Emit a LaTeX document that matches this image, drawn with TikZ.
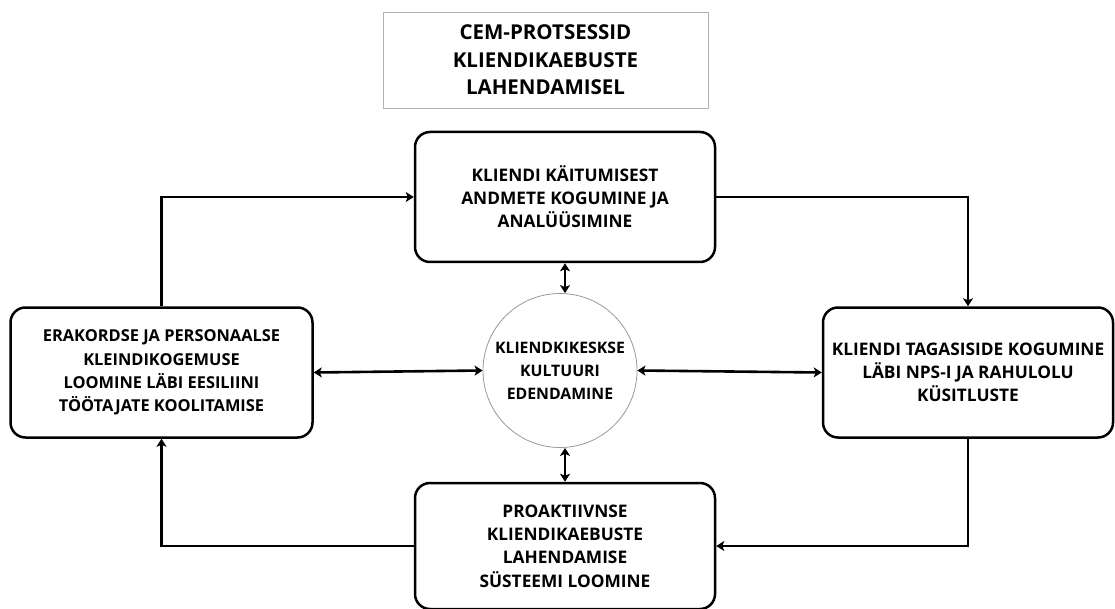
\documentclass[tikz,border=0pt]{standalone}
\usepackage{fontspec}
\setmainfont{Open Sans}
\usetikzlibrary{arrows.meta}
\begin{document}
\begin{tikzpicture}[x=1pt,y=-1pt,
  proc/.style={draw=black, line width=2.5pt, rounded corners=15pt, fill=white,
    align=center, inner sep=0pt},
  conn/.style={line width=2.6pt, -{Stealth[length=8pt,width=10pt,inset=2pt]}},
  dconn/.style={line width=2.6pt, {Stealth[length=8pt,width=10pt,inset=2pt]}-{Stealth[length=8pt,width=10pt,inset=2pt]}}
]
\useasboundingbox (0,0) rectangle (1115,609);
\fill[white] (0,0) rectangle (1115,609);

\node[draw=black!30, line width=0.8pt, minimum width=325pt, minimum height=96pt, align=center,
  font=\fontsize{20.5}{27.5}\selectfont\bfseries, inner sep=0pt] (title) at (545.5,60)
  {CEM-PROTSESSID\\KLIENDIKAEBUSTE\\LAHENDAMISEL};

\node[proc, minimum width=300pt, minimum height=130pt, font=\fontsize{17.3}{23}\selectfont\bfseries] (T) at (565,197)
  {KLIENDI KÄITUMISEST\\ANDMETE KOGUMINE JA\\ANALÜÜSIMINE};
\node[proc, minimum width=302pt, minimum height=130pt, font=\fontsize{16.4}{23.3}\selectfont\bfseries] (L) at (161.5,372.5)
  {ERAKORDSE JA PERSONAALSE\\KLEINDIKOGEMUSE\\LOOMINE LÄBI EESILIINI\\TÖÖTAJATE KOOLITAMISE};
\node[proc, minimum width=290pt, minimum height=130pt, font=\fontsize{17.3}{23}\selectfont\bfseries] (R) at (968,372.5)
  {KLIENDI TAGASISIDE KOGUMINE\\LÄBI NPS-I JA RAHULOLU\\KÜSITLUSTE};
\node[proc, minimum width=300pt, minimum height=126pt, font=\fontsize{17.3}{23.3}\selectfont\bfseries] (B) at (565,546)
  {PROAKTIIVNSE\\KLIENDIKAEBUSTE\\LAHENDAMISE\\SÜSTEEMI LOOMINE};
\node[circle, draw=black!40, line width=0.8pt, minimum size=154pt, align=center,
  font=\fontsize{15.8}{23}\selectfont\bfseries, inner sep=0pt] (C) at (560,370.5)
  {KLIENDKIKESKSE\\KULTUURI\\EDENDAMINE};

\draw[conn] (L.north) |- (T.west);
\draw[conn] (T.east) -| (R.north);
\draw[conn] (R.south) |- (B.east);
\draw[conn] (B.west) -| (L.south);

\draw[dconn] (T.south) -- (T.south |- C.north);
\draw[dconn] (B.north |- C.south) -- (B.north);
\draw[dconn] (L.east) -- (C.west);
\draw[dconn] (C.east) -- (R.west);
\end{tikzpicture}
\end{document}
